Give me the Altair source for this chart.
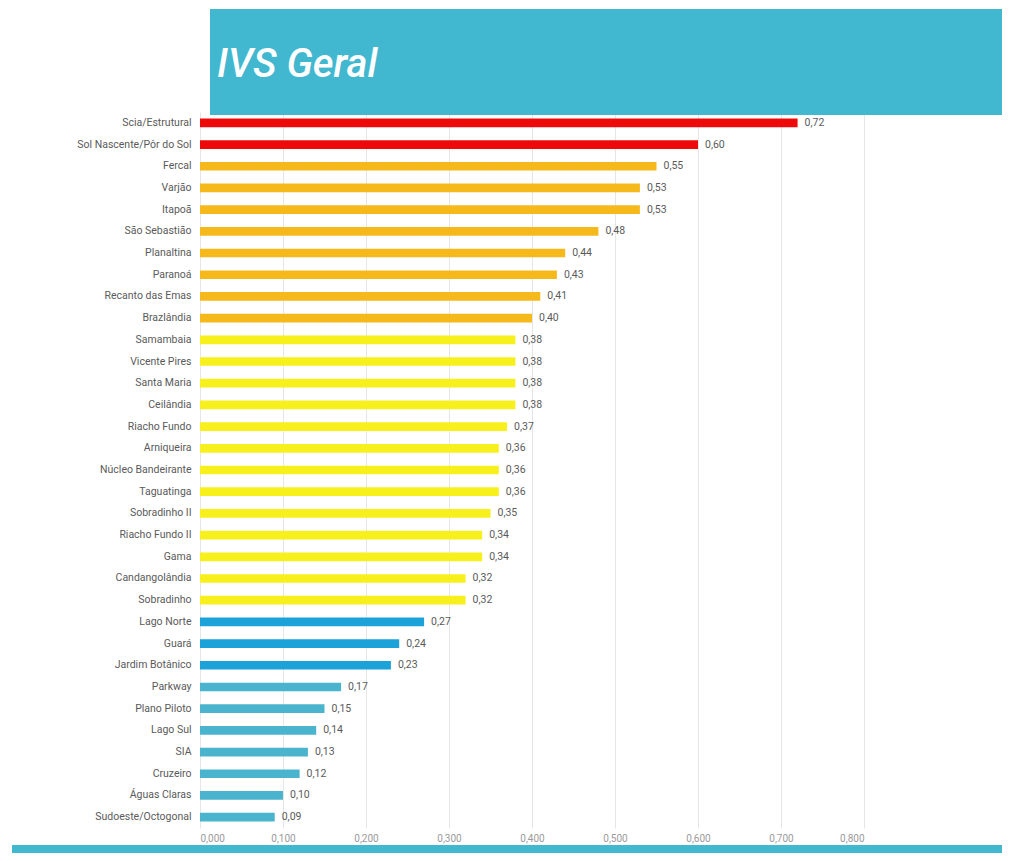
import altair as alt
import pandas as pd

categories = [
    "Scia/Estrutural", "Sol Nascente/Pôr do Sol", "Fercal", "Varjão", "Itapoã",
    "São Sebastião", "Planaltina", "Paranoá", "Recanto das Emas", "Brazlândia",
    "Samambaia", "Vicente Pires", "Santa Maria", "Ceilândia", "Riacho Fundo",
    "Arniqueira", "Núcleo Bandeirante", "Taguatinga", "Sobradinho II",
    "Riacho Fundo II", "Gama", "Candangolândia", "Sobradinho", "Lago Norte",
    "Guará", "Jardim Botânico", "Parkway", "Plano Piloto", "Lago Sul", "SIA",
    "Cruzeiro", "Águas Claras", "Sudoeste/Octogonal",
]
values = [
    0.72, 0.60, 0.55, 0.53, 0.53, 0.48, 0.44, 0.43, 0.41, 0.40,
    0.38, 0.38, 0.38, 0.38, 0.37, 0.36, 0.36, 0.36, 0.35, 0.34,
    0.34, 0.32, 0.32, 0.27, 0.24, 0.23, 0.17, 0.15, 0.14, 0.13,
    0.12, 0.10, 0.09,
]
groups = (["red"] * 2 + ["orange"] * 8 + ["yellow"] * 13 + ["blue"] * 3 + ["teal"] * 7)
group_colors = {
    "red": "#EE0A0A",
    "orange": "#F5B91C",
    "yellow": "#F8F01C",
    "blue": "#1BA2D8",
    "teal": "#4AB3CD",
}
tick_values = [0.0, 0.1, 0.2, 0.3, 0.4, 0.5, 0.6, 0.7, 0.8]
title_text = "IVS Geral"

df = pd.DataFrame({
    "regiao": categories,
    "ivs": values,
    "cor": [group_colors[g] for g in groups],
    "rotulo": [f"{v:.2f}".replace(".", ",") for v in values],
})

FONT = "Roboto, Liberation Sans, sans-serif"
TEAL = "#42B7D0"

base = alt.Chart(df)

y_enc = alt.Y(
    "regiao:N", sort=categories, title=None,
    scale=alt.Scale(paddingInner=0.6, paddingOuter=0.3),
    axis=alt.Axis(domain=False, ticks=False, labelPadding=9, labelFontSize=10.5,
                  labelColor="#5a5a5a", labelFont=FONT, labelLimit=200),
)
x_enc = alt.X(
    "ivs:Q", title=None,
    scale=alt.Scale(domain=[0, 0.8], nice=False),
    axis=alt.Axis(values=tick_values, domain=False, ticks=False, labelPadding=5,
                  labelFontSize=10, labelColor="#9a9a9a", labelFont=FONT,
                  gridColor="#E6E6E6", gridWidth=1,
                  labelExpr="replace(format(datum.value, '.3f'), '.', ',')"),
)

bars = base.mark_bar().encode(
    y=y_enc, x=x_enc, color=alt.Color("cor:N", scale=None, legend=None)
)

labels = base.mark_text(align="left", baseline="middle", dx=7, fontSize=10.5,
                        color="#5a5a5a", font=FONT).encode(
    y=alt.Y("regiao:N", sort=categories), x="ivs:Q", text="rotulo:N"
)

deco = pd.DataFrame({"t": [title_text]})
banner = alt.Chart(deco).mark_rect(color=TEAL).encode(
    x=alt.value(10), x2=alt.value(802), y=alt.value(-103), y2=alt.value(3)
)
title = alt.Chart(deco).mark_text(
    align="left", baseline="alphabetic", fontSize=40, fontStyle="italic",
    fontWeight=500, color="white", font=FONT
).encode(x=alt.value(17), y=alt.value(-35), text="t:N")
stripe = alt.Chart(deco).mark_rect(color=TEAL).encode(
    x=alt.value(-188), x2=alt.value(802), y=alt.value(733), y2=alt.value(741)
)

chart = alt.layer(banner, title, bars, labels, stripe).properties(
    width=664, height=716,
    autosize=alt.AutoSizeParams(type="none"),
    padding={"left": 192, "top": 104, "right": 138, "bottom": 25},
    background="white",
).configure_view(stroke=None)

chart.save("out.html", embed_options={"renderer": "svg", "actions": False})
